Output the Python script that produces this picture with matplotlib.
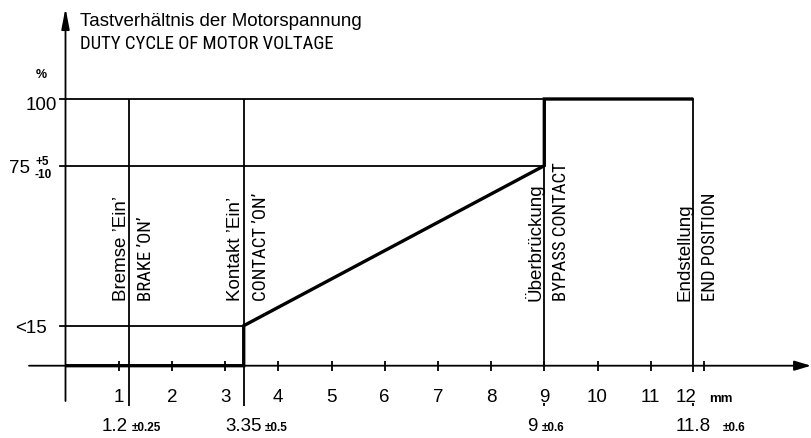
import matplotlib
matplotlib.use("Agg")
import matplotlib.pyplot as plt

FONT_MAIN = ['Liberation Sans', 'DejaVu Sans']
FONT_CAPS = ['Roboto Condensed', 'Liberation Sans', 'DejaVu Sans']
plt.rcParams['font.family'] = FONT_MAIN

# ---------------- data ----------------
title_de = "Tastverhältnis der Motorspannung"
title_en = "DUTY CYCLE OF MOTOR VOLTAGE"
y_unit = "%"
x_unit = "mm"

positions_mm = [1.2, 3.35, 9, 11.8]
position_labels = ["1.2", "3.35", "9", "11.8"]
tolerances = ["±0.25", "±0.5", "±0.6", "±0.6"]
labels_de = ["Bremse ’Ein’", "Kontakt ’Ein’", "Überbrückung", "Endstellung"]
labels_en = ["BRAKE ’ON’", "CONTACT ’ON’", "BYPASS CONTACT", "END POSITION"]

x_ticks = list(range(1, 13))

level_low = 15
level_mid = 75
level_full = 100
level_low_label = "<15"
level_mid_label = "75"
level_mid_tol_up = "+5"
level_mid_tol_dn = "-10"
level_full_label = "100"

curve_x = [0, 3.35, 3.35, 9, 9, 11.8]
curve_y = [0, 0, 15, 75, 100, 100]

# ---------------- layout (pixel <-> data) ----------------
W, H = 811, 439
X0, SX = 65.5, 53.2      # pixel x of 0 mm, pixels per mm
Y0, SY = 366.7, 2.667    # pixel y (from top) of 0 %, pixels per %

def px(v):   # horizontal pixels -> mm
    return v / SX

def py(v):   # vertical pixels -> %
    return v / SY

def X(p):    # absolute pixel x -> data
    return (p - X0) / SX

def Y(p):    # absolute pixel y (from top) -> data
    return (Y0 - p) / SY

fig = plt.figure(figsize=(W / 100, H / 100), dpi=100)
ax = fig.add_axes([0, 0, 1, 1])
ax.set_xlim(X(0), X(W))
ax.set_ylim(Y(H), Y(0))
ax.axis('off')

thin = 1.3
thick = 2.4
k = 'black'
FS = 13.5
FS_small = 8.5

# axes with arrows
ax.annotate('', xy=(0, Y(9)), xytext=(0, Y(402)),
            arrowprops=dict(arrowstyle='-|>,head_length=1.25,head_width=0.24',
                            lw=thin, color=k, mutation_scale=10,
                            shrinkA=0, shrinkB=0))
ax.annotate('', xy=(X(811), 0), xytext=(X(29), 0),
            arrowprops=dict(arrowstyle='-|>,head_length=1.0,head_width=0.3',
                            lw=thin, color=k, mutation_scale=10,
                            shrinkA=0, shrinkB=0))

# ticks
for t in x_ticks:
    ax.plot([t, t], [-py(5), py(5)], color=k, lw=thin, solid_capstyle='butt')
    off = -18 if t == 12 else 0
    ax.text(t + px(off), Y(401.7), str(t), ha='center', va='baseline', fontsize=FS)
ax.text(X(709), Y(401.7), x_unit, ha='left', va='baseline', fontsize=FS_small + 1,
        fontweight='bold')

# horizontal level lines
ax.plot([X(60), positions_mm[1]], [level_low, level_low], color=k, lw=thin)
ax.plot([X(60), positions_mm[2]], [level_mid, level_mid], color=k, lw=thin)
ax.plot([X(60), positions_mm[3]], [level_full, level_full], color=k, lw=thin)

# vertical position lines
bottoms = [Y(407), Y(407), 0, Y(373)]
for xv, yb in zip(positions_mm, bottoms):
    ax.plot([xv, xv], [yb, level_full], color=k, lw=thin, solid_capstyle='butt')
for xv in positions_mm[2:]:
    ax.plot([xv, xv], [Y(403.5), Y(407)], color=k, lw=thin, solid_capstyle='butt')

# duty cycle curve
ax.plot(curve_x, curve_y, color=k, lw=thick, solid_joinstyle='miter',
        solid_capstyle='butt')

# y labels
ax.text(X(57), Y(110.5), level_full_label, ha='right', va='baseline', fontsize=FS)
ax.text(X(29.5), Y(173), level_mid_label, ha='right', va='baseline', fontsize=FS)
ax.text(X(35), Y(165), level_mid_tol_up, ha='left', va='baseline', fontsize=FS_small,
        fontweight='bold')
ax.text(X(34.5), Y(178), level_mid_tol_dn, ha='left', va='baseline', fontsize=FS_small,
        fontweight='bold')
ax.text(X(47), Y(333.3), level_low_label, ha='right', va='baseline', fontsize=FS)
ax.text(X(41.5), Y(78), y_unit, ha='center', va='baseline', fontsize=9, fontweight='bold')

# titles
ax.text(X(80), Y(26), title_de, ha='left', va='baseline', fontsize=FS)
ax.text(X(80), Y(49), title_en, ha='left', va='baseline', fontsize=FS, family=FONT_CAPS)

# rotated labels
for xv, de, en in zip(positions_mm, labels_de, labels_en):
    ax.text(xv - px(3.5), Y(301), de, rotation=90, rotation_mode='anchor',
            ha='left', va='baseline', fontsize=FS)
    ax.text(xv + px(22), Y(301), en, rotation=90, rotation_mode='anchor',
            ha='left', va='baseline', fontsize=FS, family=FONT_CAPS)

# bottom dimension labels
main_anchor = [('right', 128), ('center', None), ('right', 537), ('center', None)]
tol_left = [132, 265, 542, 723]
for xv, lab, tol, (ha, pxa), tl in zip(positions_mm, position_labels, tolerances,
                                       main_anchor, tol_left):
    xa = X(pxa) if pxa is not None else xv
    ax.text(xa, Y(431.5), lab, ha=ha, va='baseline', fontsize=FS)
    ax.text(X(tl), Y(431.5), tol, ha='left', va='baseline', fontsize=FS_small,
            fontweight='bold')

fig.savefig('out.png', dpi=100)
